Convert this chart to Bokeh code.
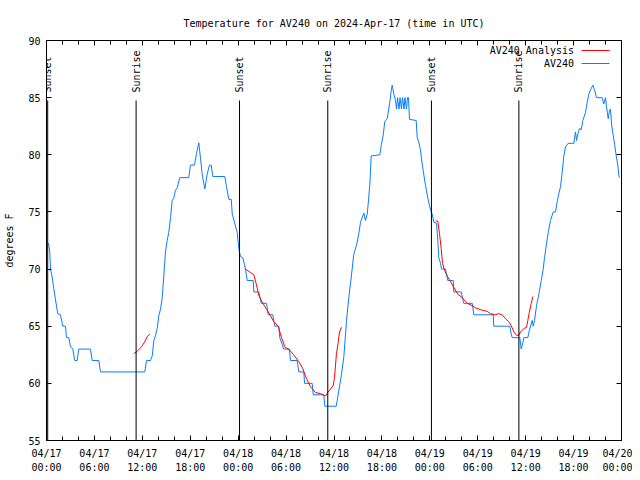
import math
from bokeh.plotting import figure
from bokeh.models import FixedTicker, Label, Arrow, LinearAxis
from bokeh.core.properties import value
from bokeh.embed import file_html
from bokeh.resources import INLINE

# ---------------- data ----------------
title_text = "Temperature for AV240 on 2024-Apr-17 (time in UTC)"
y_label = "degrees F"

# x is hours since 04/17 00:00 UTC
x_tick_hours = [0, 6, 12, 18, 24, 30, 36, 42, 48, 54, 60, 66, 72]
x_tick_labels = ["04/17\n00:00", "04/17\n06:00", "04/17\n12:00", "04/17\n18:00",
                 "04/18\n00:00", "04/18\n06:00", "04/18\n12:00", "04/18\n18:00",
                 "04/19\n00:00", "04/19\n06:00", "04/19\n12:00", "04/19\n18:00",
                 "04/20\n00:00"]
x_minor_hours = list(range(0, 73, 2))
y_ticks = [55, 60, 65, 70, 75, 80, 85, 90]

av240_hours = [0.19, 0.29, 0.41, 0.50, 0.71, 0.91, 1.13, 1.41, 1.75, 2.04, 2.38, 2.50, 2.79, 3.01,
               3.29, 3.54, 3.84, 4.04, 5.51, 5.72, 6.55, 6.76, 12.31, 12.52, 13.02, 13.24, 13.44,
               13.65, 13.86, 14.06, 14.28, 14.49, 14.69, 14.90, 15.11, 15.31, 15.53, 15.74, 15.94,
               16.15, 16.37, 16.69, 17.82, 18.03, 18.53, 18.78, 19.07, 19.28, 19.50, 19.82, 20.12,
               20.41, 20.62, 20.82, 22.33, 22.54, 22.83, 23.13, 23.26, 23.54, 23.88, 24.08, 24.29,
               24.58, 24.92, 25.13, 25.88, 25.96, 26.58, 26.89, 27.55, 27.76, 28.34, 28.59, 29.09,
               29.21, 29.71, 30.43, 30.55, 31.39, 31.59, 32.22, 32.31, 33.27, 33.40, 34.72, 34.85,
               36.28, 36.40, 36.94, 37.23, 37.57, 37.85, 38.16, 38.48, 38.82, 39.11, 39.32, 39.73,
               39.95, 40.16, 40.28, 40.48, 40.66, 41.74, 41.91, 42.16, 42.36, 42.66, 42.99, 43.16,
               43.29, 43.49, 43.70, 43.83, 43.95, 44.14, 44.27, 44.45, 44.58, 44.77, 44.89, 45.08,
               45.20, 45.33, 45.45, 46.29, 46.42, 46.62, 46.83, 46.96, 47.17, 47.46, 47.75, 48.00,
               48.30, 48.50, 48.84, 49.00, 49.12, 49.34, 49.46, 49.96, 50.25, 50.93, 51.00, 51.93,
               52.25, 53.31, 53.51, 55.94, 56.01, 58.02, 58.19, 58.32, 59.27, 59.44, 59.57, 59.77,
               60.27, 60.45, 60.82, 60.95, 61.11, 61.36, 61.65, 61.95, 62.20, 62.36, 62.61, 62.82,
               63.11, 63.45, 63.74, 63.95, 64.15, 64.36, 64.58, 64.78, 64.99, 65.33, 66.03, 66.24,
               66.37, 66.53, 66.74, 66.96, 67.16, 67.49, 67.71, 67.91, 68.21, 68.41, 68.66, 68.87,
               69.58, 69.78, 70.00, 70.12, 70.34, 70.50, 70.63, 70.75, 70.96, 71.16, 71.34, 71.54,
               71.66, 71.75]
av240_temp = [72.3, 72.1, 71.5, 70.0, 69.3, 68.3, 67.3, 66.1, 66.0, 65.0, 65.0, 64.0, 64.0, 63.2,
              63.0, 62.0, 62.0, 63.0, 63.0, 62.0, 62.0, 61.0, 61.0, 62.0, 62.0, 62.4, 63.75,
              64.2, 64.8, 65.9, 66.5, 67.5, 69.4, 71.5, 72.5, 73.2, 74.5, 76.0, 76.2,
              76.9, 77.1, 78.0, 78.0, 79.1, 79.1, 80.1, 81.05, 79.7, 78.3, 77.0, 78.3,
              79.1, 79.1, 78.1, 78.1, 77.2, 76.1, 76.1, 74.8, 74.1, 73.2, 71.8, 71.1,
              71.0, 70.0, 69.0, 69.0, 68.0, 68.0, 67.0, 67.0, 66.0, 66.0, 65.0, 65.0,
              64.0, 63.0, 63.0, 62.0, 62.0, 61.0, 61.0, 60.0, 60.0, 59.0, 59.0, 58.0,
              58.0, 58.5, 60.8, 62.3, 65.5, 67.5, 69.3, 71.3, 72.1, 73.1, 74.1, 74.9,
              74.25, 74.8, 75.7, 77.3, 79.9, 80.0, 80.8, 81.7, 82.9, 83.15, 84.6, 85.6,
              86.1, 85.3, 84.75, 84.0, 85.0, 84.0, 85.0, 84.0, 85.0, 84.0, 85.0, 84.0,
              85.0, 85.0, 83.1, 83.0, 81.5, 81.1, 80.4, 79.65, 78.6, 77.3, 76.2, 75.4,
              74.8, 74.1, 74.0, 72.5, 71.0, 70.5, 70.0, 70.0, 69.0, 69.0, 68.0, 68.0,
              67.0, 67.0, 66.0, 66.0, 65.0, 65.0, 64.3, 64.0, 64.0, 63.0, 63.3, 64.0,
              64.0, 64.6, 65.5, 65.0, 65.5, 66.8, 67.8, 69.0, 70.0, 71.0, 72.2, 73.2,
              74.25, 75.0, 75.0, 75.9, 76.6, 77.2, 78.5, 79.9, 80.7, 81.0, 81.0, 82.0,
              81.25, 81.8, 82.3, 82.2, 83.0, 83.7, 84.6, 85.3, 85.8, 86.1, 85.6, 85.0,
              85.0, 84.45, 85.0, 84.2, 83.15, 83.9, 84.0, 82.7, 81.7, 80.8, 79.9, 79.1,
              78.2, 78.0]

analysis1_hours = [10.93, 11.36, 11.90, 12.27, 12.61, 12.94]
analysis1_temp = [62.6, 62.8, 63.2, 63.6, 64.1, 64.3]
analysis2_hours = [24.92, 25.55, 25.96, 26.30, 26.58, 27.01, 27.64, 28.05, 28.46, 29.01, 29.43,
                   29.84, 30.47, 31.05, 31.59, 32.09, 32.56, 33.06, 33.68, 34.31, 34.93, 35.22,
                   35.56, 35.90, 36.06, 36.31, 36.53, 36.69, 36.94]
analysis2_temp = [70.0, 69.7, 69.5, 68.6, 67.7, 67.1, 66.4, 65.9, 65.4, 65.0, 64.0,
                  63.2, 62.9, 62.4, 61.9, 61.3, 60.4, 59.7, 59.2, 59.1, 58.9, 59.2,
                  59.5, 59.8, 60.5, 62.6, 63.6, 64.5, 64.9]
analysis3_hours = [48.71, 49.00, 49.21, 49.42, 49.59, 49.84, 50.18, 50.59, 51.00, 51.50, 52.06,
                   52.68, 53.31, 53.72, 54.56, 55.19, 55.60, 56.22, 56.64, 57.06, 57.48, 57.89,
                   58.19, 58.52, 58.85, 59.14, 59.36, 59.77, 60.11, 60.27, 60.45, 60.70, 60.90]
analysis3_temp = [74.2, 74.2, 73.1, 71.8, 70.5, 69.9, 69.4, 68.9, 68.4, 67.8, 67.5,
                  67.0, 66.8, 66.6, 66.4, 66.3, 66.1, 66.0, 66.1, 66.0, 65.65, 65.4,
                  65.05, 64.5, 64.2, 64.2, 64.5, 64.8, 64.9, 65.5, 66.2, 67.0, 67.6]

sunset_hours = [0.15, 24.17, 48.20]
sunrise_hours = [11.22, 35.22, 59.15]

# ---------------- style ----------------
FONT = "DejaVu Sans Mono"
FS = "10px"
BLUE = "#0a7cff"
RED = "#ff0000"

Y0, Y1 = 55, 90
p = figure(width=632, height=476, x_range=(0, 72), y_range=(Y0, Y1),
           output_backend="svg", toolbar_location=None, title=title_text,
           min_border_left=46, min_border_right=11, min_border_top=40, min_border_bottom=36)
p.title.align = "center"
p.title.text_font = FONT
p.title.text_font_size = FS
p.title.text_font_style = "normal"
p.title.text_color = "black"
p.title.standoff = 24
p.background_fill_color = "white"
p.border_fill_color = "white"
p.outline_line_color = "black"
p.xgrid.visible = False
p.ygrid.visible = False

def style_axis(ax):
    ax.axis_line_color = "black"
    ax.major_tick_line_color = "black"
    ax.minor_tick_line_color = "black"
    ax.major_tick_in = 5
    ax.major_tick_out = 0
    ax.minor_tick_in = 4
    ax.minor_tick_out = 0
    ax.major_label_text_font = FONT
    ax.major_label_text_font_size = FS
    ax.major_label_text_color = "black"

xt = FixedTicker(ticks=x_tick_hours, minor_ticks=x_minor_hours)
yt = FixedTicker(ticks=y_ticks, minor_ticks=[])

xb = p.xaxis[0]
xb.ticker = xt
xb.major_label_overrides = {h: lab for h, lab in zip(x_tick_hours, x_tick_labels)}
style_axis(xb)
xb.major_label_standoff = 7
xb.major_label_text_line_height = 1.3

yl = p.yaxis[0]
yl.ticker = yt
style_axis(yl)
yl.major_label_standoff = 6
yl.axis_label = y_label
yl.axis_label_text_font = FONT
yl.axis_label_text_font_size = FS
yl.axis_label_text_font_style = "normal"
yl.axis_label_text_color = "black"
yl.axis_label_standoff = 10

# mirrored tick marks on top and right, without labels
xa = LinearAxis(ticker=xt)
style_axis(xa)
xa.major_label_overrides = {h: "" for h in x_tick_hours}
xa.major_label_standoff = 0
p.add_layout(xa, "above")
yr = LinearAxis(ticker=yt)
style_axis(yr)
yr.major_label_overrides = {t: "" for t in y_ticks}
yr.major_label_standoff = 0
p.add_layout(yr, "right")

# data lines
p.line(av240_hours, av240_temp, line_color=BLUE, line_width=1)
p.multi_line([analysis1_hours, analysis2_hours, analysis3_hours],
             [analysis1_temp, analysis2_temp, analysis3_temp], line_color=RED, line_width=1)

# sunrise / sunset markers
line_top = Y0 + 0.85 * (Y1 - Y0)
text_y = Y0 + 0.87 * (Y1 - Y0)
events = sunset_hours + sunrise_hours
names = ["Sunset"] * len(sunset_hours) + ["Sunrise"] * len(sunrise_hours)
p.segment(x0=events, y0=[Y0] * len(events), x1=events, y1=[line_top] * len(events),
          line_color="black", line_width=1)
p.text(x=events, y=[text_y] * len(events), text=names, angle=math.pi / 2,
       text_align="left", text_baseline="middle", text_font=value(FONT),
       text_font_size=value(FS), text_color="black")

# legend (label left of key, like the reference)
for lab, col, ly in [("AV240 Analysis", RED, 390.0), ("AV240", BLUE, 377.0)]:
    p.add_layout(Label(x=527.5, y=ly, x_units="screen", y_units="screen", text=lab,
                       text_align="right", text_baseline="middle", text_font=FONT,
                       text_font_size=FS, text_color="black"))
    p.add_layout(Arrow(end=None, x_start=535, y_start=ly, x_end=563, y_end=ly,
                       start_units="screen", end_units="screen", line_color=col, line_width=1))

open("out.html", "w").write(file_html(p, INLINE))
